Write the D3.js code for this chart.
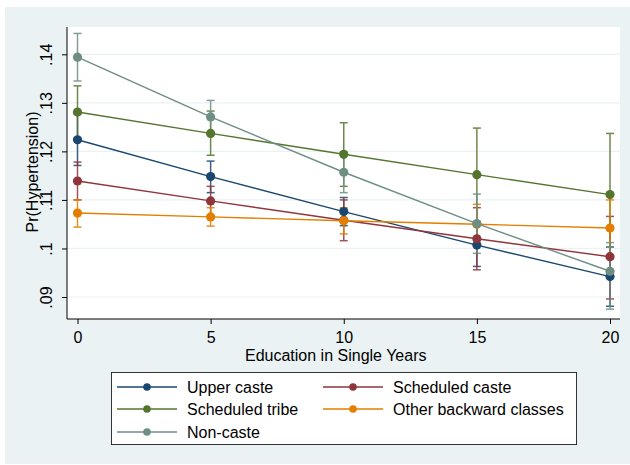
<!DOCTYPE html>
<html>
<head>
<meta charset="utf-8">
<script src="https://cdn.jsdelivr.net/npm/d3@7"></script>
<style>
  body { margin: 0; background: #ffffff; }
  svg { display: block; font-family: "Liberation Sans", Arial, sans-serif; }
</style>
</head>
<body>
<svg id="chart" width="630" height="465"></svg>
<script>
// Education years on x axis
const years = [0, 5, 10, 15, 20];
const seriesNames = ['Upper caste', 'Scheduled caste', 'Scheduled tribe', 'Other backward classes', 'Non-caste'];

// predicted margins
const upperCaste = [0.1224, 0.1148, 0.1076, 0.1007, 0.0942];
const schedCaste = [0.1139, 0.1098, 0.1058, 0.1020, 0.0983];
const schedTribe = [0.1281, 0.1237, 0.1194, 0.1152, 0.1111];
const otherBackward = [0.1073, 0.1065, 0.1057, 0.1050, 0.1042];
const nonCaste = [0.1394, 0.1271, 0.1157, 0.1051, 0.0953];

// 95% CI bounds
const upperLo = [0.1171, 0.1115, 0.1047, 0.0963, 0.0881];
const upperHi = [0.1277, 0.1180, 0.1105, 0.1051, 0.1003];
const schedCasteLo = [0.1100, 0.1068, 0.1016, 0.0956, 0.0896];
const schedCasteHi = [0.1178, 0.1128, 0.1100, 0.1084, 0.1066];
const tribeLo = [0.1227, 0.1192, 0.1128, 0.1056, 0.0985];
const tribeHi = [0.1335, 0.1283, 0.1259, 0.1248, 0.1237];
const obcLo = [0.1044, 0.1046, 0.1030, 0.1009, 0.0984];
const obcHi = [0.1100, 0.1084, 0.1084, 0.1091, 0.1100];
const nonCasteLo = [0.1345, 0.1237, 0.1115, 0.0990, 0.0875];
const nonCasteHi = [0.1443, 0.1305, 0.1199, 0.1112, 0.1012];

const yTicks = [0.09, 0.10, 0.11, 0.12, 0.13, 0.14];
const yTickLabels = ['.09', '.1', '.11', '.12', '.13', '.14'];

const colors = ['#1a476f', '#90353b', '#55752f', '#e37e00', '#6e8e84'];

const series = [
    {name: seriesNames[0], mid: upperCaste, lo: upperLo, hi: upperHi, color: colors[0]},
    {name: seriesNames[1], mid: schedCaste, lo: schedCasteLo, hi: schedCasteHi, color: colors[1]},
    {name: seriesNames[2], mid: schedTribe, lo: tribeLo, hi: tribeHi, color: colors[2]},
    {name: seriesNames[3], mid: otherBackward, lo: obcLo, hi: obcHi, color: colors[3]},
    {name: seriesNames[4], mid: nonCaste, lo: nonCasteLo, hi: nonCasteHi, color: colors[4]}
];

const svg = d3.select('#chart');
const plot = {left: 67, right: 620, top: 27, bottom: 319};
const fontSize = 16;

// outer graph region
svg.append('rect')
    .attr('x', 5).attr('y', 7)
    .attr('width', 625).attr('height', 457)
    .attr('fill', '#eaf2f3');

svg.append('rect')
    .attr('x', plot.left).attr('y', plot.top)
    .attr('width', plot.right - plot.left).attr('height', plot.bottom - plot.top)
    .attr('fill', '#ffffff');

const x = d3.scaleLinear().domain([0, 20]).range([77.5, 610]);
const y = d3.scaleLinear().domain([0.09, 0.14]).range([297, 54.3]);

// gridlines
svg.append('g').selectAll('line')
    .data(yTicks)
    .enter().append('line')
    .attr('x1', plot.left).attr('x2', plot.right)
    .attr('y1', d => y(d)).attr('y2', d => y(d))
    .attr('stroke', '#eaf2f3')
    .attr('stroke-width', 1.2);

// axes
const yAxis = svg.append('g')
    .attr('transform', `translate(${plot.left},0)`)
    .call(d3.axisLeft(y).tickValues(yTicks).tickFormat((d, i) => yTickLabels[i]).tickSize(5).tickSizeOuter(0));
yAxis.select('.domain').attr('d', `M0,${plot.top}V${plot.bottom}`).attr('stroke', '#000');
yAxis.selectAll('.tick line').attr('stroke', '#000');
yAxis.selectAll('.tick text')
    .attr('font-size', fontSize)
    .attr('fill', '#000')
    .attr('text-anchor', 'middle')
    .attr('dy', 0)
    .attr('x', 0)
    .attr('transform', 'translate(-15,0) rotate(-90)');

const xAxis = svg.append('g')
    .attr('transform', `translate(0,${plot.bottom})`)
    .call(d3.axisBottom(x).tickValues(years).tickFormat(d3.format('d')).tickSize(5).tickSizeOuter(0));
xAxis.select('.domain').attr('d', `M${plot.left},0H${plot.right}`).attr('stroke', '#000');
xAxis.selectAll('.tick line').attr('stroke', '#000');
xAxis.selectAll('.tick text')
    .attr('font-size', fontSize)
    .attr('fill', '#000')
    .attr('dy', 0)
    .attr('y', 24);

svg.append('text')
    .attr('x', 245).attr('y', 361)
    .attr('font-size', fontSize)
    .text('Education in Single Years');

svg.append('text')
    .attr('transform', 'translate(38,172) rotate(-90)')
    .attr('text-anchor', 'middle')
    .attr('font-size', fontSize)
    .text('Pr(Hypertension)');

// confidence interval caps
const capHalf = 4;
series.forEach(s => {
    const g = svg.append('g').attr('stroke', s.color).attr('stroke-width', 1.5).attr('opacity', 0.85);
    years.forEach((yr, i) => {
        const cx = x(yr);
        g.append('line').attr('x1', cx).attr('x2', cx).attr('y1', y(s.lo[i])).attr('y2', y(s.hi[i]));
        g.append('line').attr('x1', cx - capHalf).attr('x2', cx + capHalf).attr('y1', y(s.lo[i])).attr('y2', y(s.lo[i]));
        g.append('line').attr('x1', cx - capHalf).attr('x2', cx + capHalf).attr('y1', y(s.hi[i])).attr('y2', y(s.hi[i]));
    });
});

// lines and markers
const line = d3.line().x((d, i) => x(years[i])).y(d => y(d));
series.forEach(s => {
    svg.append('path')
        .datum(s.mid)
        .attr('d', line)
        .attr('fill', 'none')
        .attr('stroke', s.color)
        .attr('stroke-width', 1.4);
    svg.append('g').selectAll('circle')
        .data(s.mid)
        .enter().append('circle')
        .attr('cx', (d, i) => x(years[i]))
        .attr('cy', d => y(d))
        .attr('r', 4.6)
        .attr('fill', s.color);
});

// legend
const legend = svg.append('g');
legend.append('rect')
    .attr('x', 111.5).attr('y', 372.5)
    .attr('width', 465).attr('height', 72)
    .attr('fill', '#fff')
    .attr('stroke', '#333');

const legendPos = [
    {lx: 117, ly: 387}, {lx: 323, ly: 387},
    {lx: 117, ly: 409}, {lx: 323, ly: 409},
    {lx: 117, ly: 432}
];
series.forEach((s, i) => {
    const p = legendPos[i];
    legend.append('line')
        .attr('x1', p.lx).attr('x2', p.lx + 60)
        .attr('y1', p.ly).attr('y2', p.ly)
        .attr('stroke', s.color).attr('stroke-width', 1.4);
    legend.append('circle')
        .attr('cx', p.lx + 30).attr('cy', p.ly)
        .attr('r', 3.8).attr('fill', s.color);
    legend.append('text')
        .attr('x', p.lx + 70).attr('y', p.ly)
        .attr('dy', '0.35em')
        .attr('font-size', fontSize)
        .text(s.name);
});
</script>
</body>
</html>
